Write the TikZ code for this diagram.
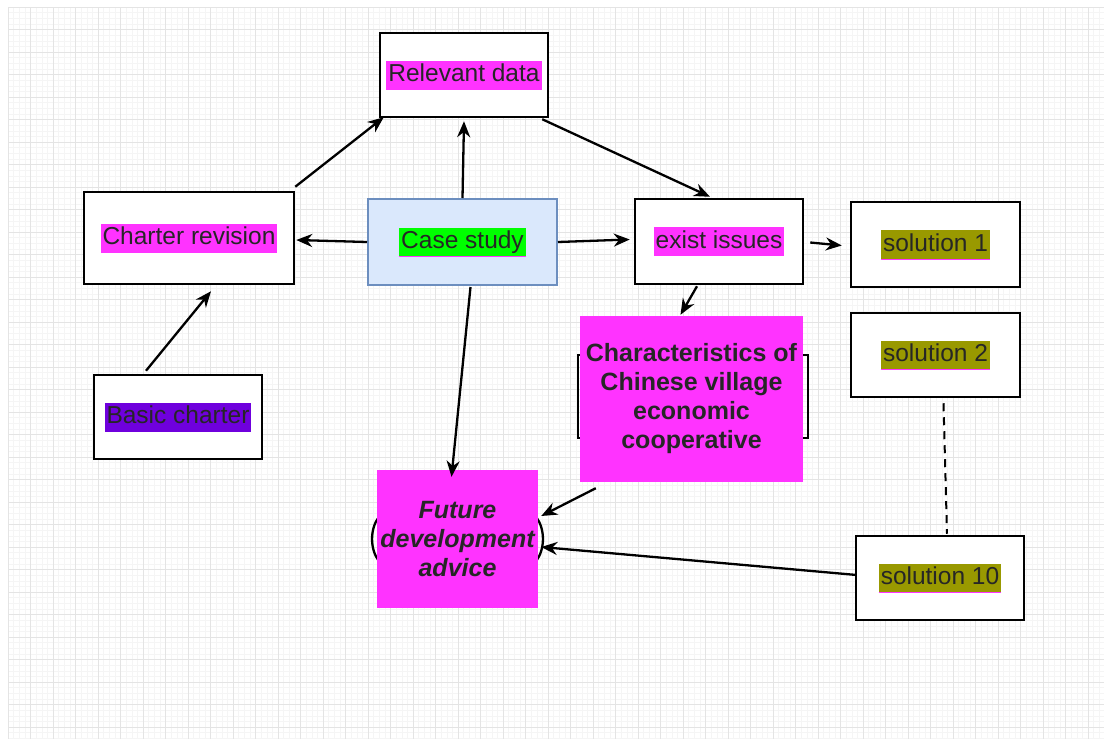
\documentclass[tikz,border=0pt]{standalone}
\usepackage{fontspec}
\setmainfont{Liberation Sans}
\usetikzlibrary{arrows.meta,calc,shapes.geometric}
\definecolor{mag}{HTML}{FF33FF}
\definecolor{grn}{HTML}{00FF00}
\definecolor{olv}{HTML}{999900}
\definecolor{pur}{HTML}{6F00DD}
\definecolor{csfill}{HTML}{DAE8FC}
\definecolor{csdraw}{HTML}{6C8EBF}
\definecolor{gmaj}{HTML}{E4E4E4}
\definecolor{gmin}{HTML}{F5F5F5}
\tikzset{
  box/.style={draw=black,line width=2.5pt,fill=white,inner sep=0pt},
  hl/.style={fill=#1,inner xsep=2pt,inner ysep=3pt,text=black!85,
     font=\fontsize{24.5}{28}\selectfont,text height=18pt,text depth=5pt},
  ul/.style={draw=mag,line width=1.2pt},
  conn/.style={line width=2.3pt,-{Stealth[length=16pt,width=13pt]}},
  bigtext/.style={align=center,text=black!85,inner sep=0pt}
}
\begin{document}
\begin{tikzpicture}[x=1pt,y=-1pt]
\useasboundingbox (0,0) rectangle (1104,739);
\fill[white] (0,0) rectangle (1104,739);
% grid
\foreach \i in {0,...,194} {\draw[gmin,line width=0.5pt] ({8+5.625*\i},7) -- ({8+5.625*\i},739);}
\foreach \j in {0,...,130} {\draw[gmin,line width=0.5pt] (8,{7+5.625*\j}) -- (1104,{7+5.625*\j});}
\foreach \i in {0,...,48} {\draw[gmaj,line width=1pt] ({8+22.5*\i},7) -- ({8+22.5*\i},739);}
\foreach \j in {0,...,32} {\draw[gmaj,line width=1pt] (8,{7+22.5*\j}) -- (1104,{7+22.5*\j});}

% boxes
\node[box,minimum width=168pt,minimum height=84pt] (rd) at (464,75) {};
\node[hl=mag] (rdt) at (rd) {Relevant data};

\node[draw=csdraw,fill=csfill,line width=2pt,minimum width=189pt,minimum height=86pt] (cs) at (462.5,242) {};
\node[hl=grn] (cst) at (cs) {Case study};
\draw[ul] (cst.south west) -- (cst.south east);

\node[box,minimum width=210pt,minimum height=92pt] (cr) at (189,238) {};
\node[hl=mag] (crt) at (cr) {Charter revision};

\node[box,minimum width=168pt,minimum height=85pt] (ei) at (719,241.5) {};
\node[hl=mag] (eit) at (ei) {exist issues};

\node[box,minimum width=169pt,minimum height=85pt] (s1) at (935.5,244.5) {};
\node[hl=olv] (s1t) at (s1) {solution 1};
\draw[ul] (s1t.south west) -- (s1t.south east);

\node[box,minimum width=169pt,minimum height=84pt] (s2) at (935.5,355) {};
\node[hl=olv] (s2t) at (s2) {solution 2};
\draw[ul] (s2t.south west) -- (s2t.south east);

\node[box,minimum width=168pt,minimum height=84pt] (s10) at (940,578) {};
\node[hl=olv] (s10t) at (s10) {solution 10};
\draw[ul] (s10t.south west) -- (s10t.south east);

\node[box,minimum width=168pt,minimum height=84pt] (bc) at (178,417) {};
\node[hl=pur] (bct) at (bc) {Basic charter};

% characteristics
\node[draw=black,line width=2.5pt,minimum width=230pt,minimum height=83pt] (chb) at (693,396.5) {};
\node[fill=mag,minimum width=223pt,minimum height=166pt,inner sep=0pt] (ch) at (691.5,399) {};
\node[bigtext,font=\bfseries\fontsize{25}{29}\selectfont] (cht) at (ch) {Characteristics of\\Chinese village\\economic\\cooperative};

% future
\node[fill=mag,minimum width=161pt,minimum height=138pt,inner sep=0pt] (fu) at (457.5,539) {};
\draw[line width=2.3pt] ($(fu.west)+(2,-22)$) .. controls ($(fu.west)+(-7,-10)$) and ($(fu.west)+(-7,10)$) .. ($(fu.west)+(2,22)$);
\draw[line width=2.3pt] ($(fu.east)+(-2,-22)$) .. controls ($(fu.east)+(7,-10)$) and ($(fu.east)+(7,10)$) .. ($(fu.east)+(-2,22)$);
\fill[mag] (fu.north west) rectangle (fu.south east);
\node[bigtext,font=\bfseries\itshape\fontsize{25}{29}\selectfont] (fut) at (fu) {Future\\development\\advice};

% connectors
\draw[conn] (cs.north) -- ($(rd.south)+(0,3)$);
\draw[conn] ($(cr.north east)+(0,-4)$) -- ($(rd.south west)+(5,-1)$);
\draw[conn] ($(rd.south east)+(-7,1)$) -- ($(ei.north)+(-9,-1)$);
\draw[conn] (cs.west) -- ($(cr.east)+(1,2)$);
\draw[conn] (cs.east) -- ($(ei.west)+(-4,-2)$);
\draw[conn] ($(ei.east)+(6,1)$) -- ($(s1.west)+(-8,1)$);
\draw[conn] ($(ei.south)+(-22,1)$) -- ($(ch.north)+(-11,-1)$);
\draw[conn] ($(cs.south)+(8,1)$) -- ($(fu.north)+(-6,7)$);
\draw[conn] ($(ch.south west)+(16,6)$) -- ($(fu.east)+(3,-23)$);
\draw[conn] ($(s10.west)+(2,-3)$) -- ($(fu.east)+(3,8)$);
\draw[conn] ($(bc.north)+(-32,-3)$) -- ($(cr.south)+(22,6)$);
\draw[line width=2pt,dash pattern=on 8pt off 6pt] ($(s2.south)+(8,5)$) -- ($(s10.north)+(7,-1)$);
\end{tikzpicture}
\end{document}
